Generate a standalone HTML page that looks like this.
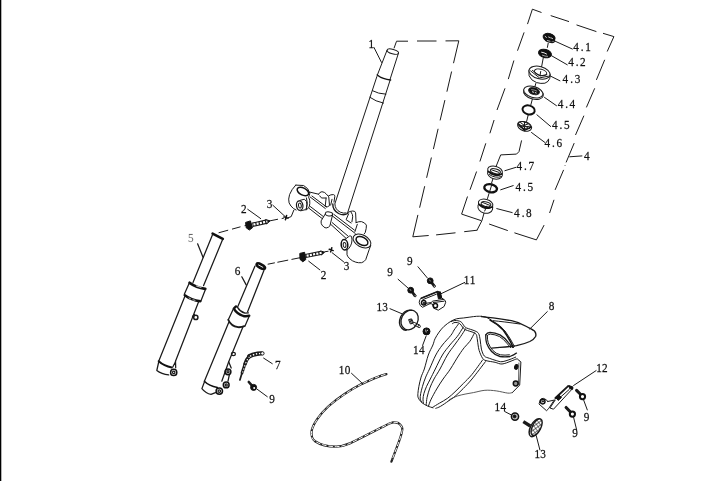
<!DOCTYPE html>
<html>
<head>
<meta charset="utf-8">
<title>Front fork assembly</title>
<style>
html,body{margin:0;padding:0;background:#fff;}
body{width:727px;height:481px;overflow:hidden;position:relative;}
svg{display:block;position:absolute;left:0;top:0;will-change:transform;}
text{font-family:"Liberation Serif",serif;font-size:13.4px;fill:#111;stroke:#111;stroke-width:.25px;}
.l{fill:none;stroke:#1a1a1a;stroke-width:1;stroke-linecap:round;stroke-linejoin:round;}
.t{fill:none;stroke:#111;stroke-width:2;stroke-linecap:round;stroke-linejoin:round;}
.m{fill:none;stroke:#111;stroke-width:1.5;stroke-linecap:round;stroke-linejoin:round;}
.w{fill:#fff;stroke:#1a1a1a;stroke-width:1;stroke-linejoin:round;}
.k{fill:#111;stroke:#111;stroke-width:1;}
.d{fill:none;stroke:#1a1a1a;stroke-width:1;}
</style>
</head>
<body>
<svg width="727" height="481" viewBox="0 0 727 481">
<rect x="0" y="0" width="727" height="481" fill="#fff"/>
<rect x="0" y="0" width="1.3" height="481" fill="#000"/>

<!-- ===== PART 1 : steering stem ===== -->
<g id="stem" class="l">
  <ellipse cx="392.8" cy="51.6" rx="5.9" ry="2.2" transform="rotate(15 392.8 51.6)"/>
  <path d="M387 50.3 L377.4 74.9"/>
  <path d="M398.4 53.3 L389.9 79.9"/>
  <path class="m" d="M377.2 75 Q383 79.5 390.6 79.9"/>
  <path d="M376.9 76.5 L334.9 203.7"/>
  <path d="M390 80.5 L347.7 212.5"/>
  <path d="M372.4 90.7 Q378 93.8 385.9 94.2"/>
  <path d="M369.9 97.3 Q375.5 101.5 383.5 103.1"/>
  <!-- base collar on clamp -->
  <path style="stroke-width:1.4" d="M332.8 203.9 Q332.6 210 338.6 213.5 Q343.5 216 347.7 213.5"/>
  <path d="M334.9 204.3 Q335 209.5 340.3 212.2 Q343.5 213.6 346.1 213"/>
</g>

<!-- dashed box around stem -->
<g id="stembox" class="d">
  <path d="M396.5 41.3 L394 48.3"/>
  <path d="M396.5 41.2 L408 41.2 M417 41 L436.5 41 M445.5 40.9 L458.8 40.8"/>
  <path id="stemR" d="M458.8 40.8 L453.5 63.2 M451.6 71.5 L446.9 91.7 M444.9 100.1 L440.1 120.4 M438.1 128.8 L433.4 149.1 M431.4 157.5 L426.6 177.8 M424.7 186.2 L419.6 207.7 M417.9 214.9 L412.8 236.8"/>
  <path d="M412.8 236.8 L428.7 235.5 M436.1 234.9 L455.5 232.8 M464.2 231.7 L477.4 230.2"/>
  <path d="M477 230.2 L481.9 220.7"/>
</g>

<!-- ===== triple clamp ===== -->
<g id="clamp" class="l">
  <!-- left boss -->
  <path d="M295.7 185.1 L303.6 185.5 Q308.6 188 309.8 193.2 Q309.6 195.5 308.6 197.1 Q310.2 200 309.8 203.4 Q309.6 206.5 308.6 207.9 L306.1 210"/>
  <path d="M295.7 185.1 Q291.5 189.5 289.6 194.5 Q288 199.5 289.1 202.9 Q290.5 206.3 293.6 208.6 L296.1 210"/>
  <ellipse class="m" cx="302.9" cy="191.5" rx="6.2" ry="3.5" transform="rotate(27 302.9 191.5)"/>
  <path d="M306.5 197.9 Q308.2 203 306.5 208.8"/>
  <!-- pinch boss left -->
  <path d="M299.9 200.4 L304.4 199.2 Q307.2 201 306.9 204.5 Q306.8 208 305.7 209.6 L300.7 210.8"/>
  <ellipse style="stroke-width:1.25" cx="299.7" cy="205.6" rx="3.2" ry="4.7" transform="rotate(-8 299.7 205.6)"/>
  <ellipse cx="299.9" cy="205.6" rx="1.4" ry="2.5" transform="rotate(-8 299.9 205.6)"/>
  <!-- step line to star -->
  <path d="M293.8 210.2 L291.2 216.6 L287.8 217.9"/>
  <!-- arm upper edge + stoppers -->
  <path d="M309.8 192.1 L318.6 194.2"/>
  <path d="M318.6 194.2 Q319.5 192 321.9 191.7 Q324.8 192 326.1 193.8 L328.5 196.5"/>
  <path d="M319.8 195.9 Q320.5 197.6 321.9 198 L326.1 198"/>
  <path d="M328.5 195.9 Q331 194.3 333.5 194.6 Q335 195 334.8 196.3 L334 202.1"/>
  <path d="M326.1 198 L325.2 206.5 Q327.5 207.5 329.5 205.6 L328.8 197.4"/>
  <path d="M332 199.3 L330.7 205.1"/>
  <!-- arm top-face lower ridge -->
  <path d="M310.3 197.1 L325.3 208.5"/>
  <path d="M311.9 196 L326.6 207"/>
  <!-- arm bottom double edge -->
  <path d="M309 208.3 L322 218.4"/>
  <path d="M310.4 206.6 L323.4 216.6"/>
  <!-- centre bolt -->
  <ellipse cx="329" cy="213.9" rx="3.7" ry="2" transform="rotate(8 329 213.9)"/>
  <path d="M325.3 213.9 L321.1 220.9 Q320.8 223.6 322 225.1 Q324 227.8 326.1 228 Q328.8 227.5 329.9 225.9 L332.6 214.7"/>
  <!-- arm right half -->
  <path d="M332.4 216 L355.2 233.4"/>
  <path d="M333.9 214.4 L354.4 230.1"/>
  <path d="M330.7 224.3 L345.8 238.1"/>
  <path d="M332.3 222.7 L347.8 235.9"/>
  <!-- bump 3 -->
  <path d="M347.7 212.6 Q350 211 352.7 211 Q355.4 211 355.6 212.8 L356.1 222.6"/>
  <path d="M351.1 212.2 Q352.9 214.5 352.7 216.8 L351.9 221.8"/>
  <path d="M348.6 213.9 L346.1 219.7 L351.1 223"/>
  <!-- bump 4 -->
  <path d="M356.1 222.6 Q359 221.3 361.5 221.6 Q365 222.6 366.4 225.1 Q366.6 228 365.2 232.6 L364.1 234"/>
  <path d="M357.3 224.3 L355 231.5"/>
  <!-- right boss -->
  <ellipse cx="362" cy="241" rx="9.6" ry="6" transform="rotate(28 362 241)"/>
  <ellipse class="m" cx="362" cy="241" rx="6.4" ry="3.9" transform="rotate(28 362 241)"/>
  <path d="M370.7 245.6 L369.1 249.8 L365.7 259.7 Q364 262 361.6 262.7 Q358.5 263 355.8 262.2 Q352 261 349.9 258.9 Q347.6 256.8 347 254.8 L347 249.8"/>
  <!-- pinch boss right -->
  <path d="M345 239.4 L349.5 236 Q351.2 235.8 351.6 236.5 Q352.4 240 351.6 243.1 Q350.8 246 349.1 248.1 L347 250.2"/>
  <ellipse class="m" cx="344.5" cy="244.8" rx="3.3" ry="5.2" transform="rotate(-5 344.5 244.8)"/>
  <ellipse cx="344.6" cy="244.9" rx="1.4" ry="2.5" transform="rotate(-5 344.6 244.9)"/>
</g>

<!-- ===== bolts 2 and star marks 3 ===== -->
<g id="bolts2">
  <!-- upper bolt -->
  <path class="d" d="M246 225.3 L218.6 232.8" stroke-dasharray="1.5 4.2 8.8 4 11.5 10"/>
  <path class="k" d="M245.6 222.4 L250.4 220.9 L252.6 227.6 L249.4 230 L246.2 227.8 Z"/>
  <path class="l" style="stroke-width:4.5;stroke-linecap:butt" d="M252.5 224.8 L266 221.7"/>
  <path class="k" d="M265.6 219.5 L270 220.9 L266.6 224 Z"/>
  <path style="fill:none;stroke:#fff;stroke-width:2.1" d="M253.4 224.6 L267.4 221.4" stroke-dasharray="2.1 1.2"/>
  <path class="d" d="M268.7 221.1 L278 219.2 M281.7 218.6 L284 218"/>
  <path class="m" d="M283.9 216.9 L288.1 218.1 M286.6 215.5 L285.4 219.7"/>
  <path class="l" d="M272.8 205.2 L285.4 216.8"/>
  <path class="l" d="M247.7 209.3 L260.7 218.6"/>
  <!-- lower bolt -->
  <path class="d" d="M301 257.5 L267.4 264.3" stroke-dasharray="9.7 3.4 11 2.6 7.3 10"/>
  <path class="k" d="M299.8 253.4 L304.6 252.3 L305.8 259.6 L302.8 261.8 L300 259.4 Z"/>
  <path class="l" style="stroke-width:4.2;stroke-linecap:butt" d="M305.4 256 L321 252.9"/>
  <path class="k" d="M320.6 250.9 L324.6 252.2 L321.4 255 Z"/>
  <path style="fill:none;stroke:#fff;stroke-width:2.1" d="M306.6 255.8 L322 252.7" stroke-dasharray="2.1 1.2"/>
  <path class="d" d="M324.5 251.8 L328.5 251.2"/>
  <path class="m" d="M329.2 249.3 L333.2 250.6 M331.8 247.8 L330.6 251.9"/>
  <path class="l" d="M332.1 252.7 L343.6 261.8"/>
  <path class="l" d="M308.7 261.2 L319.9 269.9"/>
</g>

<!-- ===== PART 5 : left fork leg ===== -->
<g id="fork5" class="l" style="stroke-width:1.25">
  <path class="t" style="stroke-width:2.6" d="M212.6 233.6 L222.8 238.8"/>
  <path d="M212.4 235 L193 282.5"/>
  <path d="M222.4 240 L203.6 285.6"/>
  <path class="t" style="stroke-width:2.7" d="M189.6 282.8 Q196 287.4 205.3 288.8"/><path style="stroke:#fff;stroke-width:.8" d="M196.5 286 L201 287.4"/>
  <path d="M189.3 283 L184.3 294.3"/>
  <path d="M205.5 289.3 L201.1 300.5"/>
  <path class="t" style="stroke-width:2.5" d="M184.8 295.2 Q191 300 200.4 301.2"/><path style="stroke:#fff;stroke-width:.7" d="M189 298 L190.5 298.8 M193 299.8 L195 300.3"/>
  <path d="M184.9 296.2 L158.7 361.2"/>
  <path d="M198.6 301.8 L175.5 361.2"/>
  <circle cx="195.8" cy="317.4" r="2.1" style="stroke-width:1.5"/>
  <path d="M194.5 314.5 L192.5 316.5"/>
  <path class="t" d="M158.7 361.2 Q164 366 171.8 367.4"/>
  <path d="M158.7 362 L156.8 370.5 Q161.5 374 168.7 374.9"/>
  <path d="M175.5 361.2 L175.7 367.8 M175.6 361.5 L172.8 367"/>
  <circle class="m" cx="173.7" cy="372.4" r="3.1"/>
  <circle cx="173.7" cy="372.4" r="1.2"/>
  <path d="M203 257.2 L197.6 243.8"/>
</g>

<!-- ===== PART 6 : right fork leg ===== -->
<g id="fork6" class="l" style="stroke-width:1.25">
  <ellipse class="t" style="stroke-width:2;fill:#111" cx="260.8" cy="266.2" rx="4.9" ry="2.1" transform="rotate(27 260.8 266.2)"/><path style="stroke:#fff;stroke-width:.9" d="M258.6 265 L262.8 267.3"/>
  <path d="M254.9 266.2 L237.4 307.4"/>
  <path d="M263.9 270.4 L247.6 311.8"/>
  <path class="t" style="stroke-width:2.3" d="M236 306.4 L233.8 308.6 Q236.5 313.5 243.3 316 Q246.5 316.6 249.3 315.7"/>
  <path style="stroke-width:1.3" d="M237.5 307.3 Q240 311.6 245 313.2 L248.4 312.9"/>
  <path d="M233.3 309 L228.3 319.8"/>
  <path d="M249.2 316.2 L244.9 326.2"/>
  <path style="stroke-width:1.8" d="M228.3 319.8 Q231 326 238 327.2 Q241.5 327.4 244.3 326.2"/>
  <path d="M228.7 322.4 L204.4 381.2"/>
  <path d="M243 326.8 L228.7 361.8 L221.8 381.2"/>
  <ellipse cx="233.4" cy="354" rx="2" ry="1.6"/>
  <path d="M228.7 361.8 L231.2 368"/>
  <path d="M229.3 375 L228 381.2"/>
  <path class="m" d="M204.4 381.2 Q209 386 217.4 387.4"/>
  <path d="M204.4 382 L201.9 388.6 Q206 393.6 211 394.3 L215.5 392.6"/>
  <circle class="m" cx="228" cy="371.8" r="2.9"/>
  <circle cx="228" cy="371.8" r="1.1"/>
  <circle class="m" cx="226.2" cy="384.9" r="2.9"/>
  <circle cx="226.2" cy="384.9" r="1.1"/>
  <circle class="m" cx="219.3" cy="391.1" r="3.2"/>
  <circle cx="219.3" cy="391.1" r="1.3"/>
  <path d="M246.2 284.9 L241.8 276.8"/>
</g>

<!-- ===== PART 7 clip + screw 9 ===== -->
<g id="clip7">
  <path class="l" style="stroke-width:4.4" d="M261 353.4 Q254 353.8 249.4 356.2"/>
  <path class="l" style="stroke-width:3.6" d="M249.4 356.2 Q246.6 359 245 364"/>
  <path class="l" style="stroke-width:2.8" d="M245 364 L242 373"/>
  <path class="l" style="stroke-width:1.7" d="M242 373 L239.9 379.9"/>
  <path class="l" style="stroke:#fff;stroke-width:1.5;stroke-linecap:butt" d="M260.4 353.5 Q254 353.9 249.8 356.4" stroke-dasharray="1.4 1.7"/>
  <path class="l" style="stroke:#fff;stroke-width:1.1;stroke-linecap:butt" d="M249.4 356.8 Q247 359.4 245.4 364 L242.6 372.5" stroke-dasharray="1.3 1.9"/>
  <circle class="w" cx="262.4" cy="353.4" r="1.7"/>
  <path class="l" d="M263.6 358.1 L272.3 363.7"/>
  <path class="l" style="stroke-width:2.6" d="M248.8 382 L252.2 385.8"/>
  <circle class="k" cx="253.6" cy="387.4" r="3"/>
  <circle cx="254.2" cy="388" r="1" fill="#fff"/>
  <path class="l" d="M257.3 389.3 L267.3 396.7"/>
</g>

<!-- ===== PART 10 cable ===== -->
<g id="cable">
  <path id="cab" class="l" style="stroke-width:2.25;stroke:#222" d="M386.4 374.1 C376 377 368 381 361.5 384.1 C352 389 338 398 328.2 406.5 C320 414 313 424 311.6 431 C311 436 312 439 315 441.2 C320 444.5 328 446.8 336.5 446.7 C342 446.5 346 445 349.8 443.4 C358 439.5 372 432 384.7 425.9 C388 424 390.5 422.8 393.1 422.4 C396.5 422 398.6 422.8 399.9 424.3 C402 426.5 402.6 428.6 402.2 430.1 C401.5 435 399.5 440 398 444.2 L391.4 461.7"/>
  <path class="l" style="stroke-width:0.95;stroke:#fff;stroke-linecap:butt" stroke-dasharray="4.5 1.9" d="M385.4 374.4 C376 377 368 381 361.5 384.1 C352 389 338 398 328.2 406.5 C320 414 313 424 311.6 431 C311 436 312 439 315 441.2 C320 444.5 328 446.8 336.5 446.7 C342 446.5 346 445 349.8 443.4 C358 439.5 372 432 384.7 425.9 C388 424 390.5 422.8 393.1 422.4 C396.5 422 398.6 422.8 399.9 424.3 C402 426.5 402.6 428.6 402.2 430.1 C401.5 435 399.5 440 398 444.2 L392 460"/>
  <path class="l" d="M351.5 373.3 L362.3 383.3"/>
</g>

<!-- ===== PART 8 fender ===== -->
<g id="fender" class="l">
  <!-- outer left outline -->
  <path d="M481.5 316.3 C480.7 316.3 478.5 316.2 476.6 316.3 C474.7 316.4 472.1 316.8 469.9 317.1 C467.7 317.4 465.5 317.7 463.3 318.0 C461.1 318.3 458.7 318.2 456.6 318.8 C454.5 319.4 452.9 320.1 450.8 321.3 C448.7 322.6 446.1 324.5 444.1 326.3 C442.2 328.1 440.6 330.0 439.1 332.1 C437.6 334.2 436.0 336.7 435.0 338.8 C434.0 340.9 434.0 342.3 432.9 345.0 C431.8 347.7 429.7 351.0 428.3 355.0 C426.9 359.0 425.5 365.3 424.3 369.0 C423.1 372.7 422.0 374.2 421.1 377.1 C420.2 380.0 419.4 383.6 418.9 386.3 C418.4 389.1 418.0 391.6 417.9 393.6 C417.8 395.6 417.7 396.7 418.4 398.2 C419.1 399.7 420.6 401.5 422.1 402.8 C423.6 404.1 425.8 405.2 427.6 406.0 C429.4 406.8 432.1 407.5 433.0 407.8"/>
  <!-- line 2 -->
  <path d="M458.3 324.2 C457.6 325.2 455.4 328.1 454.1 330.0 C452.9 331.9 452.8 332.9 450.8 335.4 C448.9 337.9 444.9 341.7 442.4 345.0 C439.9 348.3 437.9 351.0 435.8 355.0 C433.7 359.0 431.2 365.3 429.5 369.0 C427.8 372.7 426.9 374.2 425.7 377.1 C424.5 380.0 423.3 383.6 422.5 386.3 C421.7 389.1 421.1 391.5 420.7 393.6 C420.3 395.7 420.0 397.7 420.2 399.1 C420.4 400.5 421.4 401.4 421.6 401.9"/>
  <!-- line 3 -->
  <path d="M463.3 327.1 C463.0 327.6 462.5 328.5 461.5 330.0 C460.5 331.5 459.3 333.8 457.4 336.3 C455.5 338.8 452.4 341.9 449.9 345.0 C447.4 348.1 444.8 351.0 442.4 355.0 C440.0 359.0 437.3 365.0 435.3 369.0 C433.3 373.0 431.8 376.1 430.3 379.0 C428.9 381.9 427.7 383.9 426.6 386.3 C425.5 388.7 424.5 391.5 423.9 393.6 C423.3 395.7 423.1 397.5 423.0 399.1 C422.9 400.7 423.3 402.5 423.4 403.2"/>
  <!-- line 4 -->
  <path d="M465.3 328.8 C465.2 329.0 465.6 328.8 464.9 330.0 C464.1 331.2 462.5 333.8 460.8 336.3 C459.1 338.8 456.7 341.9 454.5 345.0 C452.3 348.1 449.8 351.0 447.4 355.0 C445.0 359.0 442.2 365.0 440.0 369.0 C437.8 373.0 435.7 375.8 434.0 379.0 C432.3 382.2 430.9 385.1 429.8 388.1 C428.7 391.2 427.7 394.6 427.1 397.3 C426.5 400.1 426.4 403.4 426.2 404.6"/>
  <!-- line 5 -->
  <path d="M474.5 332.9 C473.7 334.3 471.6 338.9 469.9 341.3 C468.2 343.7 466.3 345.0 464.5 347.3 C462.7 349.6 461.4 351.4 459.0 355.0 C456.6 358.6 453.0 365.0 450.4 369.0 C447.8 373.0 445.4 375.7 443.1 379.0 C440.8 382.3 438.7 385.6 436.7 389.0 C434.7 392.4 432.6 396.3 431.2 399.1 C429.8 401.9 428.9 404.9 428.5 406.0"/>
  <!-- ridge (double) -->
  <path d="M451.2 321.7 C451.8 321.5 453.3 320.5 454.9 320.5 C456.5 320.5 459.3 320.8 460.8 321.7 C462.3 322.6 463.1 324.8 464.1 325.9 C465.1 326.9 464.8 327.2 466.6 328.0 C468.4 328.8 472.9 330.0 474.9 330.9 C476.9 331.8 477.7 332.1 478.6 333.6 C479.5 335.1 479.7 337.4 480.2 340.0 C480.7 342.6 480.7 346.4 481.4 349.1 C482.1 351.8 483.0 354.5 484.3 356.0 C485.6 357.5 487.4 357.5 489.4 358.3 C491.4 359.1 494.2 360.0 496.3 360.6 C498.4 361.2 499.7 361.9 502.0 361.7 C504.3 361.5 507.7 360.2 510.0 359.4 C512.3 358.6 514.8 357.5 515.7 357.1"/>
  <path d="M452.6 323.6 C453.0 323.4 453.8 322.4 455.0 322.4 C456.2 322.4 458.3 322.6 459.6 323.4 C460.9 324.2 461.6 326.1 462.6 327.2 C463.6 328.3 463.7 328.9 465.6 329.8 C467.5 330.7 472.0 331.8 473.8 332.6 C475.6 333.4 475.8 333.6 476.4 334.8 C477.0 336.0 476.9 337.4 477.4 340.0 C477.8 342.6 478.2 347.2 479.1 350.3 C480.0 353.4 481.5 356.6 482.6 358.3 C483.8 360.0 483.9 359.9 486.0 360.6 C488.1 361.3 492.4 361.7 495.1 362.3 C497.8 362.9 499.3 364.2 502.0 364.0 C504.7 363.8 508.6 362.0 511.1 361.1 C513.6 360.2 515.6 359.0 516.9 358.9 C518.2 358.8 518.7 360.3 519.1 360.6"/>
  <!-- top going right, tail -->
  <path d="M481.5 316.3 Q486 316.2 489.8 319.1 L491.6 320.4"/>
  <path style="stroke-width:1.35" d="M481.6 316.6 C486 317 490 317.6 494.9 318.2 C501 319 506 319.8 511.5 320.7 C517 321.8 522 323.8 526.5 326.5 C530 328.5 533.5 330 534.8 331.5 Q536.5 334 535.6 336.5 Q534 339.5 529.8 341.5 C526 343.2 521 344.8 516.5 345.7 C511 346.6 505 347 499.9 347.3 L491.6 348.2"/>
  <path d="M493.3 320.7 Q503 321.6 519.9 324"/>
  <!-- inner edge of tail (double) -->
  <path class="m" d="M490 320 Q498 324 503.2 330 Q509 338 513.2 347.3"/>
  <path d="M492.5 321.4 Q500 325.5 505 331 Q510.5 338.5 514.4 346.4"/>
  <!-- opening -->
  <path style="stroke-width:1.3" d="M485.8 334.9 Q487 332.6 490 332.4 Q495 332.6 500 334.9 Q505 338 508.2 342.3 L512.4 347.3"/>
  <path d="M487.4 335.6 Q488.4 334.2 490.4 334.1 Q495 334.4 499.4 336.5 Q503.6 339 506.8 343.2 L510.6 347.6"/>
  <path style="stroke-width:1.3" d="M485.8 334.9 Q485.6 339.5 486.6 343.2 Q488.4 348 491.6 351.5 Q495 355.2 500 356.5 Q505 357.3 509.9 356.5 Q514 355.2 516.5 353.1"/>
  <path d="M487.4 335.6 Q487.2 339.5 488.2 342.8 Q490 347.5 493 350.6 Q496 353.8 500.4 354.8 Q505 355.5 509.4 354.8"/>
  <!-- side plate -->
  <path d="M519.1 360.6 L520.9 361.9 L519.7 385.1 L512.3 392.6"/>
  <path d="M518.9 363 L518.5 384.4" style="stroke-width:.7"/>
  <ellipse class="k" cx="516.3" cy="366.9" rx="1.7" ry="2.5" transform="rotate(15 516.3 366.9)"/>
  <circle class="m" cx="515.7" cy="383.5" r="2.4" style="fill:#999"/>
  <!-- lower right body edge (double) -->
  <path d="M482.6 360.0 C480.8 362.4 475.2 370.5 472.0 374.4 C468.8 378.3 466.0 380.7 463.2 383.6 C460.4 386.5 457.6 389.4 455.0 391.8 C452.4 394.2 450.3 396.3 447.7 398.2 C445.1 400.1 441.9 401.7 439.4 403.2 C436.9 404.7 433.7 406.6 432.6 407.3"/>
  <path d="M485.4 361.7 C483.2 364.6 475.7 374.5 472.0 379.0 C468.3 383.5 466.0 385.7 463.2 388.6 C460.4 391.5 457.4 394.3 455.0 396.4 C452.6 398.4 451.0 399.2 448.6 400.9 C446.2 402.6 442.5 405.2 440.4 406.4 C438.3 407.6 436.6 408.0 435.8 408.3"/>
  <!-- bottom edge -->
  <path style="stroke-width:.85;stroke:#3a3a3a" d="M448.6 400.5 C448.9 400.3 448.9 399.9 450.4 399.1 C451.9 398.3 455.2 396.7 457.7 395.9 C460.1 395.1 462.5 394.7 465.1 394.1 C467.7 393.6 470.1 393.2 473.4 392.6 C476.7 392.0 481.1 390.6 484.9 390.3 C488.7 390.0 492.5 390.4 496.3 390.9 C500.1 391.4 505.0 392.8 507.7 393.1 C510.4 393.4 511.5 392.7 512.3 392.6"/>
  <!-- leader 8 -->
  <path d="M547.3 311.6 L529.8 329"/>
</g>

<!-- ===== PART 11 bracket, screws 9, cap 13, nut 14 (upper) ===== -->
<g id="grp11">
  <path class="l" d="M418 266.8 L427.4 278"/>
  <path class="l" style="stroke-width:2.8" d="M431 281.6 L434.2 286"/>
  <circle class="k" cx="430.2" cy="280.8" r="2.9"/>
  <circle cx="434.4" cy="286.2" r="1" class="w"/>
  <path d="M429.4 279.6 L430.6 281.4" style="stroke:#ccc;stroke-width:.7"/>
  <path class="l" d="M398.1 279.3 L408 288"/>
  <path class="l" style="stroke-width:2.8" d="M411.4 291 L414.9 295.6"/>
  <circle class="k" cx="410.7" cy="290.2" r="2.9"/>
  <circle cx="415.1" cy="295.8" r="1" class="w"/>
  <path d="M409.8 289 L411 290.8" style="stroke:#ccc;stroke-width:.7"/>
  <!-- bracket 11 -->
  <path class="w" d="M421.2 298.2 L437.8 291.5 L439.6 292 L441.6 297.8 L443.7 299.4 Q445.9 300.4 445.7 302.3 L444.1 306.5 L438.3 310.2 L433.7 308.2 L432.4 304 L429.9 303.6 L422.5 307.3 Q419.6 306 419.2 302.4 Q419.4 299.4 421.2 298.2 Z"/>
  <path class="l" style="stroke-width:1.6" d="M421.2 298.2 L437.8 291.5"/>
  <path class="l" d="M422.9 299.6 L436.4 294.2"/>
  <path class="l" d="M429.9 303.6 L432.8 301.1 L443.7 299.4"/>
  <path class="l" d="M433.3 302.5 L444.1 301.2"/>
  <path class="k" d="M437.2 292.4 L440.4 291.8 L441.7 298.2 L438.4 298.8 Z"/>
  <circle class="m" cx="423.7" cy="302.8" r="2.2"/>
  <circle class="k" cx="424" cy="303" r="0.7"/>
  <circle class="m" cx="435.4" cy="305.7" r="2.1"/>
  <path class="l" d="M426 303.3 L430.5 302.6"/>
  <path class="l" d="M464.8 282.4 L441.1 293.7"/>
  <!-- cap 13 upper -->
  <ellipse class="l" style="stroke-width:1.3" cx="409.6" cy="320" rx="8.2" ry="10.2" transform="rotate(28 409.6 320)"/>
  <path class="l" style="stroke-width:1.3" d="M411.5 310.3 Q405 309 400.8 316.5 Q397.5 324 401.8 328.2 Q404 330.5 406.4 330.2"/>
  <path class="w" d="M408.6 319.6 L411.6 318.9 L413.6 323 L410.4 324 Z"/><path class="l" d="M409.8 319.6 L411.4 323.4 M411 319.3 L412.6 323.1"/>
  <path class="l" d="M414.5 322.5 L419.5 325 M413.8 324.8 L418.5 327.3"/>
  <circle class="w" cx="419.2" cy="326.4" r="1.2"/>
  <path class="l" d="M390 308.7 L401.8 313.7"/>
  <!-- nut 14 upper -->
  <circle class="k" cx="426.5" cy="331.4" r="3.5"/>
  <path d="M425.6 329.6 L426.2 332.4 M427.6 329.8 L427.4 331" style="stroke:#fff;stroke-width:.7;fill:none"/>
  <path class="l" d="M426.1 336.1 L422.6 345.4"/>
</g>

<!-- ===== PART 12 bracket, screws 9, cap 13, nut 14 (lower right) ===== -->
<g id="grp12">
  <path class="l" style="stroke-width:1.9" d="M555.4 398 L568.1 386.1"/>
  <path class="l" d="M568.1 386.1 L573.1 388 L553.5 409.2 L550 408 L555 400.3"/>
  <path class="l" d="M560.4 397.2 L569.2 389.5"/>
  <path class="k" d="M555.8 397.6 L559 394.9 L561.4 397.6 L558.2 400.4 Z"/>
  <path class="k" d="M568.9 385.6 L572.9 386.9 L572.5 389.4 L569.6 388.6 Z"/>
  <path class="l" d="M555 399.9 L547.7 401.5"/>
  <path class="l" d="M539.2 403.4 L540.4 399.5 Q541.8 398.2 543.5 398.4 L546.5 399.9 L547.7 401.5"/>
  <path class="l" d="M539.2 404.2 L546.5 410.7 L548.5 408.8 L553.8 400.7"/>
  <circle class="m" cx="542.7" cy="401.6" r="2.3"/>
  <circle class="k" cx="542.9" cy="401.4" r=".7"/>
  <path class="l" d="M596.1 370.6 L573.6 385.5"/>
  <!-- screw upper -->
  <path class="l" style="stroke-width:3.1" d="M576.6 390.4 L580.2 394"/>
  <circle class="t" style="fill:#fff" cx="582.5" cy="396.6" r="2.6"/>
  <path class="l" d="M583.6 399.9 L587.3 409.9"/>
  <!-- screw lower -->
  <path class="l" style="stroke-width:3.1" d="M566.1 407.5 L570 411.5"/>
  <circle class="t" style="fill:#fff" cx="572.4" cy="414.1" r="2.6"/>
  <path class="l" d="M573.6 417.4 L576.7 430"/>
  <!-- nut 14 lower -->
  <circle class="m" cx="515" cy="416.6" r="3.6" style="fill:#bbb"/>
  <circle class="k" cx="514.6" cy="416.4" r="1.4"/>
  <path class="l" d="M504.7 411.5 L511.8 415.2"/>
  <!-- cap 13 lower -->
  <path class="l" style="stroke-width:3.3;stroke-linecap:butt" d="M523.3 421.6 L530.3 426"/>
  <ellipse class="l" cx="535.1" cy="427.8" rx="4.6" ry="9.6" transform="rotate(27 535.1 427.8)" style="fill:#fff;stroke-width:1.5"/>
  <ellipse class="l" cx="536.6" cy="427.2" rx="4.2" ry="9.2" transform="rotate(27 536.6 427.2)" style="fill:url(#hatch);stroke-width:1.4"/>
  <path class="l" d="M536.2 435.6 L539.9 449.9"/>
</g>

<!-- ===== PART 4 bearing stack ===== -->
<g id="box4" class="d">
  <path d="M532.4 9.2 L541.5 12.5 M550.7 15.6 L569 21.6 M576.5 24.9 L596.4 31.6 M603 33.3 L613.9 36.6"/>
  <!-- left edge -->
  <path d="M532.4 9.2 L527.5 24.1 M524.1 32.4 L517.5 50.7 M513.9 60.5 L508.3 79.1 M505 88.3 L497 110 M494.1 120 L489.9 133.3 M485.8 143.3 L479.9 161.5 M476.6 171.5 L470 189.8 M467.5 196.5 L461.6 214.1"/>
  <!-- right edge -->
  <path d="M613.9 36.6 L607.2 51.5 M604.7 59.8 L596.4 79.9 M594.7 88.3 L586.4 107.4 M583.9 115.7 L575.5 135 M574.2 143.1 L566.1 162.4 M563.6 169.9 L555.1 189.9 M554 199.8 L549.6 213 M544.1 225.1 L536.4 239.9"/>
  <path d="M564.9 165.2 L565.2 165.8"/>
  <!-- bottom -->
  <path d="M461.6 214.1 L481.4 220.7 M489.1 224 L507.8 230.6 M514.4 232.8 L536.4 239.9"/>
  <path d="M481.9 220.7 L484.7 210.8"/>
  <!-- leader 4 -->
  <path d="M569.3 156.8 L582.3 155.9"/>
</g>
<defs>
  <pattern id="hatch" width="3" height="3" patternUnits="userSpaceOnUse" patternTransform="rotate(27)">
    <rect width="3" height="3" fill="#fff"/>
    <path d="M0 0 H3 M0 0 V3" stroke="#111" stroke-width="1.15" fill="none"/>
  </pattern>
</defs>
<g id="bearings" class="l">
  <!-- connecting axis lines -->
  <path d="M548.2 43.2 L547.4 47.4"/>
  <path d="M543.2 58.2 L540.7 71.5"/>
  <path d="M535.8 83.5 L534.8 87"/>
  <path d="M532.4 99 L530.8 105"/>
  <path d="M528.2 115 L526.6 121.5"/>
  <path d="M521.5 140.8 L519 151.6 L516.5 154.1 L500.7 154.9 L495.7 167.4"/>
  <path d="M493 178.5 L491.6 183"/>
  <path d="M489 193.5 L487.5 198.5"/>
  <!-- 4.1 -->
  <ellipse cx="550" cy="40" rx="4.6" ry="2.2" transform="rotate(14 550 40)" style="stroke-width:1.4"/>
  <ellipse class="k" cx="549.1" cy="37.4" rx="6.1" ry="3.9" transform="rotate(14 549.1 37.4)"/>
  <path d="M545.2 36.4 L546.4 37.4 M548.6 37 L550.4 37.8 M551.4 38 L552.6 38.6" style="stroke:#fff;stroke-width:.8"/>
  <path d="M547.4 40.6 L550 41.2" style="stroke:#fff;stroke-width:.7"/>
  <!-- 4.2 -->
  <ellipse class="k" cx="545" cy="53.5" rx="6.6" ry="4.1" transform="rotate(15 545 53.5)"/>
  <path d="M541.6 52.2 Q544 52.4 546.6 54" style="stroke:#fff;stroke-width:.9"/>
  <path d="M542.4 55.2 Q545 56.4 547.6 56.4" style="stroke:#fff;stroke-width:.6"/>
  <!-- 4.3 -->
  <path class="w" d="M528.9 70.6 L529.1 75.8 Q531 80.6 536.6 82.6 Q541 83.9 544.9 83.2 Q548.6 82 549.8 78.3 L550.2 74.6 Z"/>
  <ellipse cx="539.5" cy="72.6" rx="10.8" ry="6.1" transform="rotate(15 539.5 72.6)" class="w"/>
  <ellipse cx="540.6" cy="72.3" rx="6.3" ry="3.1" transform="rotate(15 540.6 72.3)"/>
  <path d="M530.6 70.9 L539.5 77.9 L548.3 76.2"/>
  <path d="M532.4 70.4 L540 76 L546.8 74.6"/>
  <path d="M540.7 71.5 L540 75.6"/>
  <!-- 4.4 -->
  <ellipse cx="533.4" cy="93.2" rx="10.2" ry="5.9" transform="rotate(17 533.4 93.2)" class="w"/>
  <ellipse cx="533.3" cy="92" rx="9.9" ry="5.4" transform="rotate(17 533.3 92)" class="w"/>
  <ellipse class="k" cx="534" cy="91.2" rx="5.5" ry="3.3" transform="rotate(17 534 91.2)"/>
  <path d="M532.4 91.8 L533.6 92.2 M535.2 92.6 L536.2 93" style="stroke:#fff;stroke-width:.9"/>
  <path d="M531.6 89.6 Q534 89.6 536.8 91" style="stroke:#fff;stroke-width:.5"/>
  <!-- 4.5 -->
  <ellipse class="t" cx="528.6" cy="109.9" rx="6.2" ry="4.4" transform="rotate(14 528.6 109.9)"/>
  <!-- 4.6 -->
  <ellipse cx="524.6" cy="126.4" rx="7.2" ry="4.6" transform="rotate(18 524.6 126.4)" class="w"/>
  <ellipse cx="524.2" cy="125.2" rx="6.6" ry="3.2" transform="rotate(18 524.2 125.2)"/>
  <path class="m" d="M518.6 124 L524.5 130.4 L530.4 127.4"/>
  <path d="M520.5 122.6 L528.8 128.6 M524.5 122 L524.5 130 M521 126.5 L528 124 M519.5 125 Q524 128 529.5 126.4"/>
  <!-- 4.7 -->
  <ellipse cx="495" cy="173.6" rx="7.6" ry="5.4" transform="rotate(16 495 173.6)" class="w"/>
  <ellipse cx="495" cy="170.8" rx="7.5" ry="4.5" transform="rotate(16 495 170.8)" class="w"/>
  <ellipse cx="495.4" cy="171.2" rx="5.2" ry="2.3" transform="rotate(16 495.4 171.2)"/>
  <path class="m" d="M488.6 171.6 Q494.5 176.4 502 174"/>
  <path d="M489.4 174.6 Q495 178.6 501.4 176.6"/>
  <path d="M491.5 169.8 L499 172.4"/>
  <!-- 4.5 second -->
  <ellipse class="t" style="stroke-width:2.3" cx="490.6" cy="188.2" rx="6.4" ry="4" transform="rotate(12 490.6 188.2)"/>
  <path d="M492 184 L489.4 192.4"/>
  <!-- 4.8 -->
  <ellipse cx="485.3" cy="207.4" rx="7.5" ry="5.8" transform="rotate(15 485.3 207.4)" class="w"/>
  <ellipse cx="485.6" cy="203.8" rx="7.4" ry="4.5" transform="rotate(15 485.6 203.8)" class="w"/>
  <ellipse cx="486" cy="204.2" rx="5" ry="2.3" transform="rotate(15 486 204.2)"/>
  <path class="m" d="M479.2 204.4 Q485 209.4 492.6 207"/>
  <path d="M482.4 202.4 L490 205.4"/>
  <path d="M486.8 206 L484.7 211"/>
</g>
<g id="leaders4" class="l">
  <path d="M554 40.7 L572.3 49"/>
  <path d="M551.5 55.7 L567.3 64.8"/>
  <path d="M549.9 75.8 L559.9 80.8"/>
  <path d="M544.5 97.4 L556.5 105.7"/>
  <path d="M536.9 114.8 L550.7 126.5"/>
  <path d="M531.5 132.5 L544.8 142.4"/>
  <path d="M504.9 170.7 L515.7 167.4"/>
  <path d="M500.7 189.8 L513.2 185.6"/>
  <path d="M496.8 208.6 L512.2 212.6"/>
</g>

<!-- other leaders -->
<g class="l">
  <path d="M374 47.5 L381.5 62.4"/>
</g>

<!-- ===== labels ===== -->
<g id="labels">
  <text transform="scale(0.84,1)" x="438.8" y="48">1</text>
  <text transform="scale(0.84,1)" x="286.9" y="213">2</text>
  <text transform="scale(0.84,1)" x="317.7" y="208.3">3</text>
  <text transform="scale(0.84,1)" x="223.8" y="242" fill-opacity=".6" stroke-opacity=".2">5</text>
  <text transform="scale(0.84,1)" x="279.4" y="275">6</text>
  <text transform="scale(0.84,1)" x="381.8" y="278.6">2</text>
  <text transform="scale(0.84,1)" x="409.2" y="270.5">3</text>
  <text transform="scale(0.84,1)" x="327.4" y="368.7">7</text>
  <text transform="scale(0.84,1)" x="320.6" y="403">9</text>
  <text transform="scale(0.84,1)" x="403.4 410.3" y="374.1">10</text>
  <text transform="scale(0.84,1)" x="484.5" y="265">9</text>
  <text transform="scale(0.84,1)" x="461.1" y="276.2">9</text>
  <text transform="scale(0.84,1)" x="552.1 559.1" y="283.7">11</text>
  <text transform="scale(0.84,1)" x="448.3 455.1" y="310.6">13</text>
  <text transform="scale(0.84,1)" x="491.8 498.7" y="354">14</text>
  <text transform="scale(0.84,1)" x="653.3" y="309.9">8</text>
  <text transform="scale(0.84,1)" x="709.9 716.8" y="371.8">12</text>
  <text transform="scale(0.84,1)" x="588.8 595.7" y="411.5">14</text>
  <text transform="scale(0.84,1)" x="694.9" y="420.6">9</text>
  <text transform="scale(0.84,1)" x="681.4" y="437.4">9</text>
  <text transform="scale(0.84,1)" x="636.3 643.2" y="458.4">13</text>
  <text transform="scale(0.84,1)" x="695.3" y="160.5">4</text>
  <text transform="scale(0.84,1)" x="682.4 691.4 696.7" y="51">4.1</text>
  <text transform="scale(0.84,1)" x="676.4 685.5 690.6" y="66.5">4.2</text>
  <text transform="scale(0.84,1)" x="669.8 678.8 684.1" y="82.8">4.3</text>
  <text transform="scale(0.84,1)" x="663.9 672.9 678.1" y="108.5">4.4</text>
  <text transform="scale(0.84,1)" x="657.1 666.1 671.4" y="129.3">4.5</text>
  <text transform="scale(0.84,1)" x="648.3 657.3 662.6" y="147">4.6</text>
  <text transform="scale(0.84,1)" x="614.8 623.8 629.1" y="169.9">4.7</text>
  <text transform="scale(0.84,1)" x="613.6 622.7 627.9" y="191.2">4.5</text>
  <text transform="scale(0.84,1)" x="611.9 621.1 626.2" y="216.8">4.8</text>
</g>
</svg>
</body>
</html>
